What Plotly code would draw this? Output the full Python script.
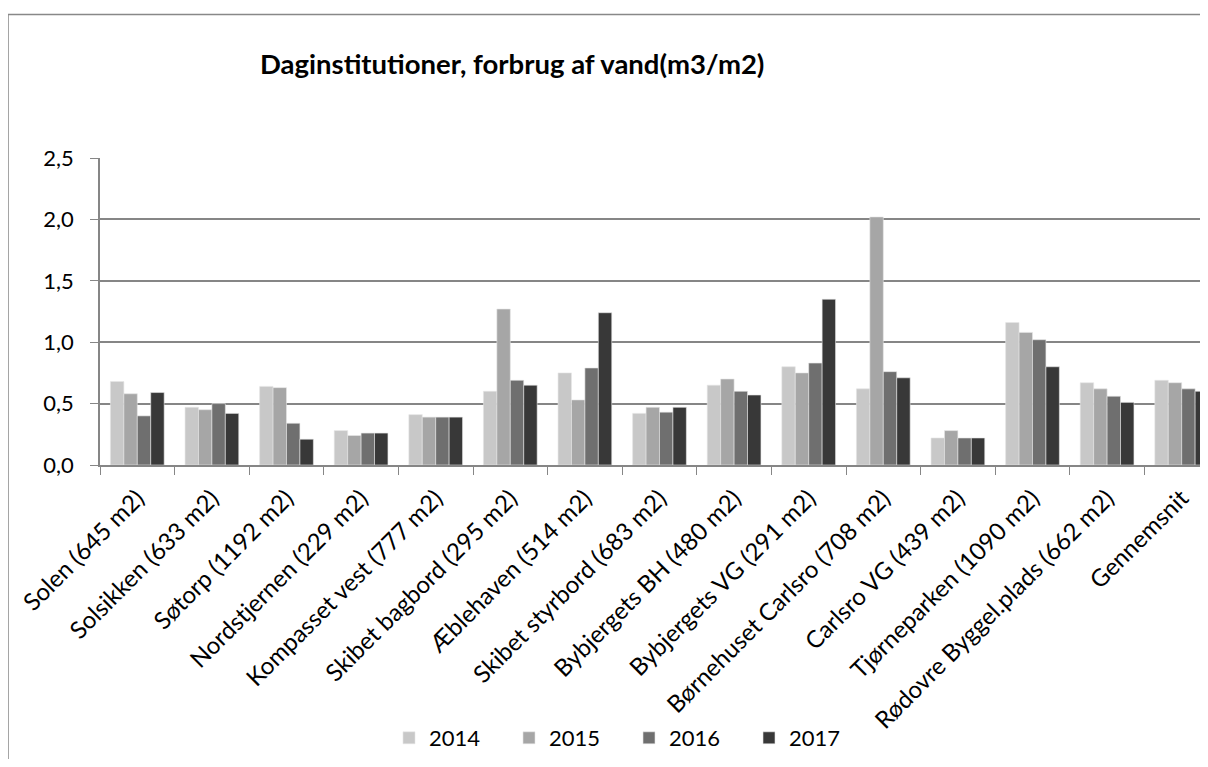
import plotly.graph_objects as go

# data (m3 per m2)
institutions = [
    "Solen (645 m2)", "Solsikken (633 m2)", "Søtorp (1192 m2)", "Nordstjernen (229 m2)",
    "Kompasset vest (777 m2)", "Skibet bagbord (295 m2)", "Æblehaven (514 m2)",
    "Skibet styrbord (683 m2)", "Bybjergets BH (480 m2)", "Bybjergets VG (291 m2)",
    "Børnehuset Carlsro (708 m2)", "Carlsro VG (439 m2)", "Tjørneparken (1090 m2)",
    "Rødovre Byggel.plads (662 m2)", "Gennemsnit",
]
v2014 = [0.68, 0.47, 0.64, 0.28, 0.41, 0.60, 0.75, 0.42, 0.65, 0.80, 0.62, 0.22, 1.16, 0.67, 0.69]
v2015 = [0.58, 0.45, 0.63, 0.24, 0.39, 1.27, 0.53, 0.47, 0.70, 0.75, 2.02, 0.28, 1.08, 0.62, 0.67]
v2016 = [0.40, 0.50, 0.34, 0.26, 0.39, 0.69, 0.79, 0.43, 0.60, 0.83, 0.76, 0.22, 1.02, 0.56, 0.62]
v2017 = [0.59, 0.42, 0.21, 0.26, 0.39, 0.65, 1.24, 0.47, 0.57, 1.35, 0.71, 0.22, 0.80, 0.51, 0.60]
years = ["2014", "2015", "2016", "2017"]
y_ticks = [0, 0.5, 1.0, 1.5, 2.0, 2.5]

colors = ["#c8c8c8", "#a6a6a6", "#6f6f6f", "#383838"]
series = [v2014, v2015, v2016, v2017]
font_name = "Lato"
grid = "#868686"

fig = go.Figure()
for i, (yr, vals) in enumerate(zip(years, series)):
    fig.add_trace(go.Bar(
        x=institutions, y=vals, name=yr,
        marker=dict(color=colors[i], line=dict(color="#e6e6e6", width=0.6)),
    ))

# the page body adds 8px on each side, keep the figure inside the window
OFF = 8
W, H = 1192, 751
ml, mt, mb = 92, 150, 293
pw, ph = W - ml, H - mt - mb
cat_px = 74.6  # width of one category in the reference


# page pixel -> paper coords
def px_x(p):
    return (p - OFF - ml) / pw


def px_y(p):
    return (H - mb - (p - OFF)) / ph


fig.update_layout(
    width=W, height=H,
    margin=dict(l=ml, r=0, t=mt, b=mb),
    paper_bgcolor="white", plot_bgcolor="white",
    barmode="group", bargap=0.28, bargroupgap=0,
    separators=",.",
    font=dict(family=font_name, size=22, color="#000"),
    legend=dict(
        orientation="h", yanchor="middle", xanchor="left",
        x=px_x(389), y=px_y(740),
        font=dict(family=font_name, size=22, color="#000"),
        bgcolor="rgba(0,0,0,0)", entrywidth=75, itemwidth=30,
    ),
    xaxis=dict(
        range=[-0.5, -0.5 + pw / cat_px], tickangle=-45, tickson="boundaries",
        ticks="outside", ticklen=8, tickcolor=grid,
        showline=True, linecolor=grid, linewidth=1.5,
        showgrid=False, automargin=False, ticklabelstandoff=8,
        tickfont=dict(family=font_name, size=24, color="#000"),
    ),
    yaxis=dict(
        range=[0, 2.5], tickvals=y_ticks, tickformat=".1f",
        ticks="outside", ticklen=8, tickcolor=grid,
        showline=True, linecolor=grid, linewidth=1.5,
        showgrid=True, gridcolor=grid, gridwidth=1.5,
        zeroline=False, automargin=False, ticklabelstandoff=12,
        tickfont=dict(family=font_name, size=22, color="#000"),
    ),
    showlegend=True,
)

# outer chart border (cut off at right and bottom like the reference)
fig.add_shape(type="rect", xref="paper", yref="paper",
              x0=px_x(8), x1=px_x(1240), y0=px_y(800), y1=px_y(14),
              line=dict(color="#888888", width=1.5), layer="below")

fig.add_annotation(
    text="<b>Daginstitutioner, forbrug af vand(m3/m2)</b>",
    xref="paper", yref="paper", x=px_x(512), y=px_y(63),
    xanchor="center", yanchor="middle", showarrow=False,
    font=dict(family=font_name, size=27.5, color="#000"),
)

fig.write_html("out.html")
